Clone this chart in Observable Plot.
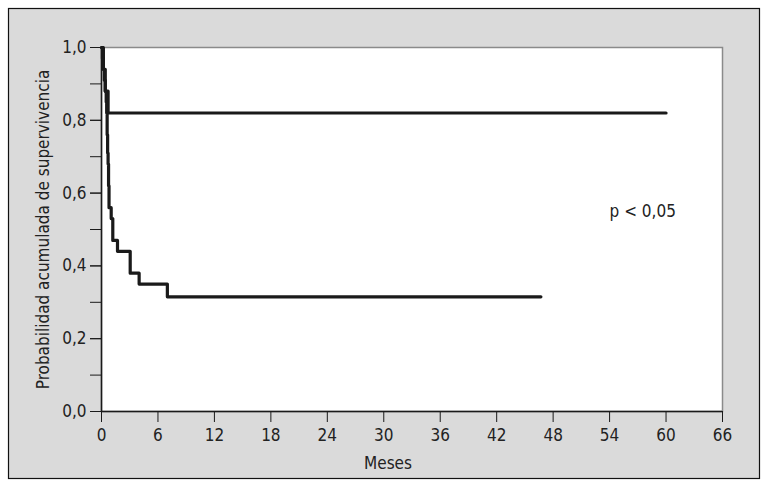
<!DOCTYPE html>
<html>
<head>
<meta charset="utf-8">
<script src="https://cdn.jsdelivr.net/npm/d3@7"></script>
<script src="https://cdn.jsdelivr.net/npm/@observablehq/plot@0.6"></script>
<style>
  html, body { margin: 0; padding: 0; background: #ffffff; }
  #chart { width: 766px; height: 485px; }
</style>
</head>
<body>
<div id="chart"></div>
<script>
// Kaplan-Meier curves (months, cumulative survival probability)
const upperTimes = [0, 0.2, 0.4, 0.7, 60];
const upperSurv  = [1.0, 0.94, 0.88, 0.82, 0.82];

const lowerTimes = [0, 0.1, 0.2, 0.3, 0.4, 0.5, 0.55, 0.6, 0.65, 0.7, 0.75, 0.8, 1.03, 1.2, 1.7, 3.05, 4.0, 7.0, 46.7];
const lowerSurv  = [1.0, 0.97, 0.94, 0.91, 0.88, 0.85, 0.82, 0.76, 0.71, 0.68, 0.62, 0.56, 0.53, 0.47, 0.44, 0.38, 0.35, 0.315, 0.315];

const xTicks = [0, 6, 12, 18, 24, 30, 36, 42, 48, 54, 60, 66];
const yTicks = [0, 0.1, 0.2, 0.3, 0.4, 0.5, 0.6, 0.7, 0.8, 0.9, 1.0];
const yLabelTicks = [0, 0.2, 0.4, 0.6, 0.8, 1.0];

const xTitle = "Meses";
const yTitle = "Probabilidad acumulada de supervivencia";
const pText = "p < 0,05";

const upper = upperTimes.map((t, i) => ({t, s: upperSurv[i]}));
const lower = lowerTimes.map((t, i) => ({t, s: lowerSurv[i]}));

const font = "'DejaVu Sans Condensed', 'DejaVu Sans', sans-serif";
const ink = "#1a1a1a";

const chart = Plot.plot({
  width: 766,
  height: 485,
  marginLeft: 101,
  marginRight: 44,
  marginTop: 47,
  marginBottom: 74,
  style: {fontFamily: font, fontSize: "17px", color: ink, background: "transparent", overflow: "visible"},
  x: {domain: [0, 66]},
  y: {domain: [0, 1]},
  marks: [
    Plot.frame({fill: "white", stroke: "#8a8a8a", strokeWidth: 1.5}),
    Plot.axisY({ticks: yTicks, tickFormat: () => "", tickSize: 11, stroke: ink, label: null}),
    Plot.axisY({ticks: yLabelTicks, tickSize: 11, tickPadding: 4, stroke: ink,
      tickFormat: d => d.toFixed(1).replace(".", ","), fontSize: 17, fill: "#222",
      label: yTitle, labelAnchor: "center", labelArrow: "none", labelOffset: 65}),
    Plot.axisX({ticks: xTicks, tickSize: 11, tickPadding: 6, stroke: ink, fontSize: 17, fill: "#222",
      label: null}),
    Plot.text([xTitle], {text: d => d, frameAnchor: "bottom", dx: -24, dy: 57, fontSize: 17, fill: "#222"}),
    Plot.ruleX([0], {stroke: ink, strokeWidth: 1.5}),
    Plot.ruleY([0], {stroke: ink, strokeWidth: 1.5}),
    Plot.line(upper, {x: "t", y: "s", curve: "step-after", stroke: ink, strokeWidth: 3.2}),
    Plot.line(lower, {x: "t", y: "s", curve: "step-after", stroke: ink, strokeWidth: 3.2}),
    Plot.text([pText], {x: 54.0, y: 0.55, text: d => d, textAnchor: "start", fontSize: 17, fill: "#222"})
  ]
});

// outer grey panel with a black border (decoration)
const svg = d3.select(chart);
svg.insert("rect", ":first-child")
  .attr("x", 8.5).attr("y", 8.5)
  .attr("width", 751).attr("height", 470)
  .attr("fill", "#dadada").attr("stroke", "#111").attr("stroke-width", 1.2);

document.getElementById("chart").appendChild(chart);
</script>
</body>
</html>
